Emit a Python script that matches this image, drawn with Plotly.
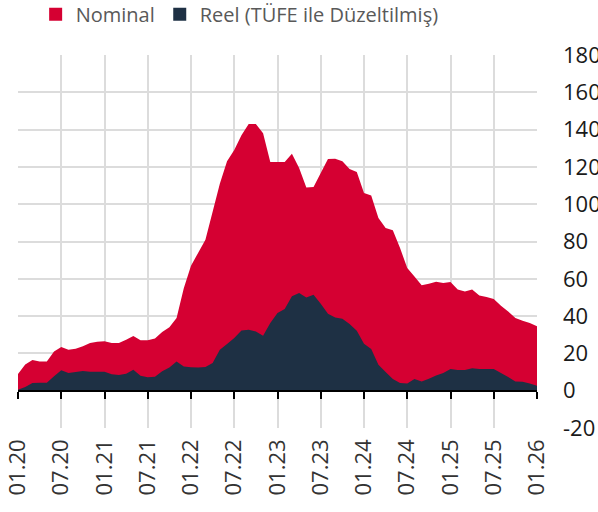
import plotly.graph_objects as go

# Monthly index: 0 = 01.2020 ... 72 = 01.2026
months = list(range(73))
tick_positions = [0, 6, 12, 18, 24, 30, 36, 42, 48, 54, 60, 66, 72]
tick_labels = ["01.20", "07.20", "01.21", "07.21", "01.22", "07.22", "01.23",
               "07.23", "01.24", "07.24", "01.25", "07.25", "01.26"]
y_ticks = [-20, 0, 20, 40, 60, 80, 100, 120, 140, 160, 180]
y_tick_labels = ["-20", "0", "20", "40", "60", "80", "100", "120", "140", "160", "180"]

nominal = [9, 14, 16.5, 15.7, 15.7, 21, 23.4, 22, 22.5, 23.8,
           25.6, 26.3, 26.5, 25.6, 25.6, 27.3, 29.3, 27, 27, 28,
           31.5, 34, 39, 55, 67, 74, 81, 96, 111, 123,
           129, 137, 143, 143, 138, 122.6, 122.6, 122.6, 127, 119.4,
           109, 109.2, 116.7, 124.2, 124.4, 123, 118.9, 117.3, 106, 104.6,
           92.6, 87.2, 86, 76.5, 65.8, 61.3, 56.5, 57.4, 58.4, 57.7,
           58.3, 54.2, 53.2, 54.2, 51, 50.2, 49.2, 45.6, 42.5, 39,
           37.5, 36.3, 34.5]

real = [0.5, 2, 4.1, 4.3, 4.3, 7.7, 10.9, 9.5, 10, 10.5,
        10.2, 10.2, 10.2, 8.8, 8.4, 9.1, 11.3, 8, 7.2, 7.5,
        10.4, 12.5, 15.7, 13, 12.6, 12.5, 12.7, 14.8, 22, 25,
        28.2, 32.3, 32.7, 31.8, 29.5, 36.3, 41.7, 43.8, 50.6, 52.4,
        50, 51.5, 46.6, 41.3, 39.3, 38.6, 35.8, 32.2, 25.2, 22.4,
        13.9, 10, 6.3, 4.1, 3.8, 6.3, 5, 6.4, 8.2, 9.5,
        11.6, 11.1, 11.1, 12, 11.6, 11.6, 11.6, 9.5, 7.3, 5,
        4.8, 3.8, 2.7]

series_names = ["Nominal", "Reel (TÜFE ile Düzeltilmiş)"]
RED = "#d50032"
NAVY = "#1e3044"
FONT = "Open Sans"

fig = go.Figure()
fig.add_trace(go.Scatter(x=months, y=nominal, fill="tozeroy", mode="none",
                         fillcolor=RED, showlegend=False, hoverinfo="skip"))
fig.add_trace(go.Scatter(x=months, y=real, fill="tozeroy", mode="none",
                         fillcolor=NAVY, showlegend=False, hoverinfo="skip"))
# legend entries (square markers)
for name, col in zip(series_names, [RED, NAVY]):
    fig.add_trace(go.Scatter(x=[None], y=[None], mode="markers", name=name,
                             marker=dict(symbol="square", size=13, color=col)))
# helper trace for the zero-level axis with ticks
fig.add_trace(go.Scatter(x=[None], y=[None], xaxis="x2", showlegend=False))

fig.update_layout(
    width=598, height=512,
    margin=dict(l=18, r=61, t=55, b=84),
    paper_bgcolor="white", plot_bgcolor="white",
    font=dict(family=FONT, size=20, color="#333333"),
    showlegend=True,
    legend=dict(orientation="h", x=0.034, xanchor="left",
                y=0.972, yref="container", yanchor="middle",
                font=dict(size=20, color="#595959"),
                bgcolor="rgba(0,0,0,0)", borderwidth=0),
    xaxis=dict(range=[0, 72], tickvals=tick_positions, ticktext=tick_labels,
               tickangle=-90, showgrid=True, gridcolor="#dcdcdc", gridwidth=2,
               showline=False, zeroline=False, ticks="", automargin=False,
               ticklabelstandoff=6,
               tickfont=dict(size=22, color="#333333")),
    xaxis2=dict(range=[0, 72], tickvals=tick_positions, overlaying="x",
                anchor="free", position=0.1, showticklabels=False,
                showgrid=False, zeroline=False, showline=True,
                linecolor="#000000", linewidth=2, ticks="outside",
                ticklen=7, tickwidth=2, tickcolor="#000000"),
    yaxis=dict(range=[-20, 180], tickvals=y_ticks, ticktext=y_tick_labels,
               side="right",
               showgrid=True, gridcolor="#dcdcdc", gridwidth=2,
               zeroline=False, showline=False, ticks="", automargin=False,
               ticklabelstandoff=25,
               tickfont=dict(size=22, color="#1a1a1a")),
)

fig.write_html("out.html", config={"displayModeBar": False},
               post_script="document.body.style.margin='0px';")
